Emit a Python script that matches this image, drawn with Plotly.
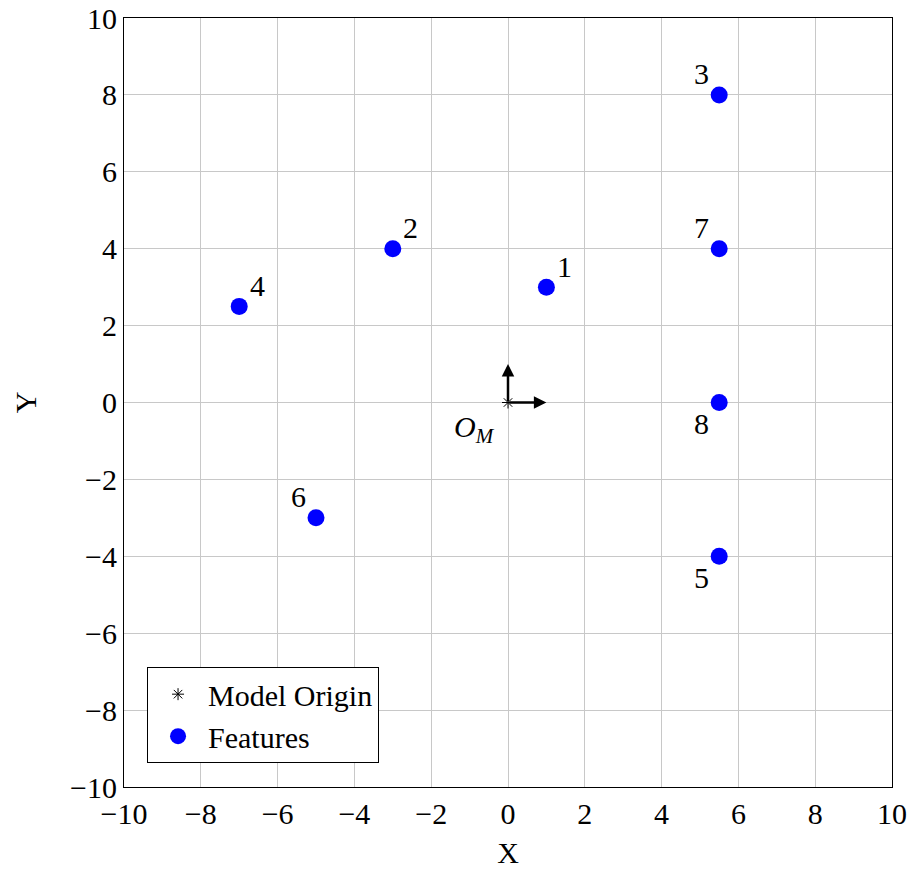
import plotly.graph_objects as go

# Data
feat_x = [1, -3, 5.5, -7, 5.5, -5, 5.5, 5.5]
feat_y = [3, 4, 8, 2.5, -4, -3, 4, 0]
feat_labels = ["1", "2", "3", "4", "5", "6", "7", "8"]
# label offset directions (dx, dy sign) : +1 right/up, -1 left/down
label_dir_x = [1, 1, -1, 1, -1, -1, -1, -1]
label_dir_y = [1, 1, 1, 1, -1, 1, 1, -1]
origin_x = [0]
origin_y = [0]
frame_axis_x = [1, 0]  # arrow tips (x-axis arrow, y-axis arrow)
frame_axis_y = [0, 1]
ticks = list(range(-10, 11, 2))

FONT = "Liberation Serif"
FS = 30

fig = go.Figure()

fig.add_trace(go.Scatter(
    x=origin_x, y=origin_y, mode="markers", name="Model Origin",
    marker=dict(symbol="asterisk-open", size=10, color="black",
                line=dict(color="black", width=1)),
))
fig.add_trace(go.Scatter(
    x=feat_x, y=feat_y, mode="markers", name="Features",
    marker=dict(symbol="circle", size=17, color="#0000ff"),
))

# Feature labels
for x, y, t, dx, dy in zip(feat_x, feat_y, feat_labels, label_dir_x, label_dir_y):
    fig.add_annotation(x=x, y=y, text=t, showarrow=False,
                       xshift=18 * dx, yshift=21 * dy,
                       font=dict(family=FONT, size=FS, color="black"))

# Frame arrows
for tx, ty in zip(frame_axis_x, frame_axis_y):
    fig.add_annotation(x=tx, y=ty, ax=origin_x[0], ay=origin_y[0],
                       xref="x", yref="y", axref="x", ayref="y",
                       text="", showarrow=True, arrowhead=2, arrowsize=1,
                       arrowwidth=2.5, arrowcolor="black", standoff=0)

fig.add_annotation(x=origin_x[0], y=origin_y[0], text="<i>O<sub>M</sub></i>",
                   showarrow=False, xshift=-34, yshift=-26,
                   font=dict(family=FONT, size=FS, color="black"))

axis_common = dict(
    range=[-10, 10], tickvals=ticks, showgrid=True, gridcolor="#c8c8c8",
    gridwidth=1, zeroline=False, showline=True, linecolor="black",
    linewidth=1, mirror=True, ticks="", automargin=False,
    tickfont=dict(family=FONT, size=FS, color="black"),
    title_font=dict(family=FONT, size=FS, color="black"),
)

fig.update_layout(
    width=911, height=869,
    margin=dict(l=124, r=19, t=18, b=82, autoexpand=False),
    plot_bgcolor="white", paper_bgcolor="white",
    xaxis=dict(axis_common, title=dict(text="X", standoff=12)),
    yaxis=dict(axis_common, title=dict(text="Y", standoff=24)),
    showlegend=True,
    legend=dict(x=0.03, y=0.031, xanchor="left", yanchor="bottom",
                bordercolor="black", borderwidth=1, bgcolor="white",
                font=dict(family=FONT, size=FS, color="black"),
                tracegroupgap=0, itemwidth=50, entrywidth=240, entrywidthmode="pixels"),
    font=dict(family=FONT),
)

fig.write_html("out.html")
